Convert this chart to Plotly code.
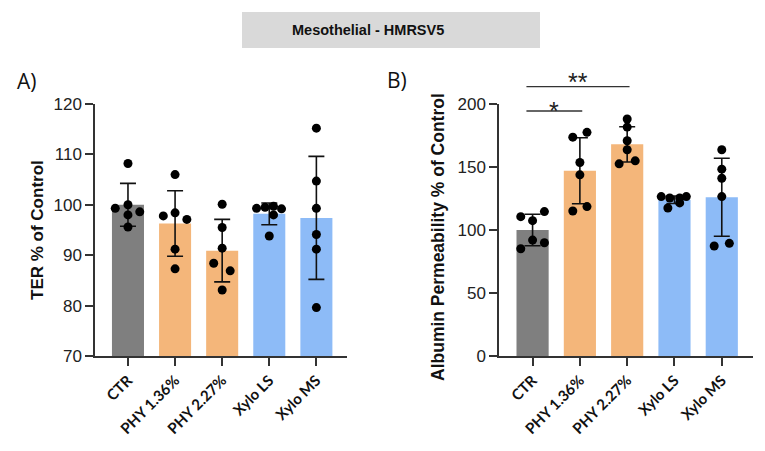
import plotly.graph_objects as go

# ---------------- data ----------------
categories = ["CTR", "PHY 1.36%", "PHY 2.27%", "Xylo LS", "Xylo MS"]
bar_colors = ["#7f7f7f", "#f4b67a", "#f4b67a", "#8dbbf7", "#8dbbf7"]

# Panel A: TER % of control
ter_mean = [100.0, 96.3, 90.9, 98.2, 97.4]
ter_sd = [4.25, 6.5, 6.2, 2.15, 12.2]
ter_points = [
    [108.2, 99.3, 100.0, 98.6, 98.0, 95.6],
    [106.0, 97.8, 98.4, 97.1, 91.2, 87.3],
    [100.1, 95.5, 91.4, 88.4, 86.9, 83.1],
    [99.3, 99.5, 99.7, 99.2, 98.0, 93.8],
    [115.2, 104.7, 99.3, 94.1, 91.2, 79.6],
]
ter_jitter = [
    [0, -0.27, 0, 0.25, 0, 0],
    [0, -0.25, 0, 0.25, 0, 0],
    [0, 0, 0, -0.18, 0.17, 0],
    [-0.27, -0.09, 0.09, 0.26, 0.09, 0],
    [0, 0, 0, 0, 0, 0],
]

# Panel B: Albumin permeability % of control
alb_mean = [100.0, 147.0, 168.0, 124.0, 126.0]
alb_sd = [12.5, 26.2, 14.0, 3.0, 31.0]
alb_points = [
    [110.6, 114.6, 107.4, 92.0, 85.1, 89.9],
    [173.7, 177.5, 153.6, 143.8, 115.1, 118.6],
    [188.1, 181.7, 170.8, 163.7, 152.5, 154.9],
    [126.5, 125.4, 125.4, 126.5, 121.5, 117.5],
    [163.7, 148.3, 141.1, 126.5, 87.3, 89.4],
]
alb_jitter = [
    [-0.25, 0.25, 0, 0, -0.25, 0.25],
    [-0.15, 0.15, 0, 0, -0.15, 0.15],
    [0, 0, 0, 0, -0.17, 0.17],
    [-0.28, -0.1, 0.11, 0.25, 0.11, -0.14],
    [0, 0, 0, 0, -0.16, 0.16],
]

# ---------------- figure ----------------
idx = list(range(len(categories)))
fig = go.Figure()

def add_panel(means, sds, points, jitter, xa, ya):
    fig.add_trace(go.Bar(
        x=idx, y=means, width=0.68, xaxis=xa, yaxis=ya,
        marker=dict(color=bar_colors, line=dict(width=0)),
        error_y=dict(type="data", array=sds, visible=True, color="#111111",
                     thickness=1.6, width=8),
        showlegend=False, hoverinfo="y",
    ))
    px, py = [], []
    for i, (pts, jit) in enumerate(zip(points, jitter)):
        for v, j in zip(pts, jit):
            px.append(i + j)
            py.append(v)
    fig.add_trace(go.Scatter(
        x=px, y=py, mode="markers", xaxis=xa, yaxis=ya,
        marker=dict(color="#000000", size=9),
        showlegend=False, cliponaxis=False,
    ))

add_panel(ter_mean, ter_sd, ter_points, ter_jitter, "x", "y")
add_panel(alb_mean, alb_sd, alb_points, alb_jitter, "x2", "y2")

# the page adds an 8px body margin; map target screen pixels to paper fractions
W, H, OFF = 765, 451, 8
def fx(px):
    return (px - OFF) / W
def fy(py):
    return (H - (py - OFF)) / H

axis_common = dict(showline=True, linecolor="#333333", linewidth=1.5,
                   ticks="outside", ticklen=8, tickwidth=1.5, tickcolor="#333333",
                   showgrid=False, zeroline=False, automargin=False)
xt_font = dict(family="Lato", size=15, color="#111111", weight="bold")
yt_font = dict(family="Liberation Sans", size=17, color="#222222")

fig.update_layout(
    width=W, height=H,
    margin=dict(l=0, r=0, t=0, b=0, pad=0, autoexpand=False),
    plot_bgcolor="white", paper_bgcolor="white",
    showlegend=False,
    xaxis=dict(domain=[fx(95), fx(347)], range=[-0.7, 4.65], tickvals=idx,
               ticktext=categories, tickangle=-45, tickfont=xt_font,
               anchor="y", **axis_common),
    yaxis=dict(domain=[fy(356), fy(104)], range=[70, 120], tickvals=[70, 80, 90, 100, 110, 120],
               tickfont=yt_font, anchor="x", **axis_common),
    xaxis2=dict(domain=[fx(499), fx(753)], range=[-0.71, 4.66], tickvals=idx,
                ticktext=categories, tickangle=-45, tickfont=xt_font,
                anchor="y2", **axis_common),
    yaxis2=dict(domain=[fy(356), fy(104)], range=[0, 200], tickvals=[0, 50, 100, 150, 200],
                tickfont=yt_font, anchor="x2", **axis_common),
)

# Title box
fig.add_shape(type="rect", xref="paper", yref="paper",
              x0=fx(242), x1=fx(540), y0=fy(48), y1=fy(12),
              fillcolor="#d9d9d9", line=dict(width=0), layer="below")
fig.add_annotation(text="<b>Mesothelial - HMRSV5</b>", xref="paper", yref="paper",
                   x=fx(368), y=fy(30), xanchor="center", yanchor="middle", showarrow=False,
                   font=dict(family="Liberation Sans", size=14.5, color="#111111"))

# Panel letters
fig.add_annotation(text="A)", xref="paper", yref="paper", x=fx(15), y=fy(81),
                   xanchor="left", yanchor="middle", showarrow=False,
                   font=dict(family="Open Sans", size=21, color="#111111"))
fig.add_annotation(text="B)", xref="paper", yref="paper", x=fx(385), y=fy(80),
                   xanchor="left", yanchor="middle", showarrow=False,
                   font=dict(family="Open Sans", size=21, color="#111111"))

# Y axis titles
fig.add_annotation(text="<b>TER % of Control</b>", xref="paper", yref="paper",
                   x=fx(38), y=fy(230), xanchor="center", yanchor="middle",
                   textangle=-90, showarrow=False,
                   font=dict(family="Liberation Sans", size=17, color="#111111"))
fig.add_annotation(text="<b>Albumin Permeability % of Control</b>", xref="paper", yref="paper",
                   x=fx(438), y=fy(237), xanchor="center", yanchor="middle",
                   textangle=-90, showarrow=False,
                   font=dict(family="Liberation Sans", size=17.5, color="#111111"))

# Significance brackets (panel B)
sig_pairs = [(0, 1, "*"), (0, 2, "**")]
sig_line_px = [111, 86.7]
sig_star_px = [111, 82]
for (a, b, s), ly, sy in zip(sig_pairs, sig_line_px, sig_star_px):
    fig.add_shape(type="line", xref="x2", yref="paper", x0=a - 0.13, x1=b + 0.05,
                  y0=fy(ly), y1=fy(ly), line=dict(color="#333333", width=1.3))
    fig.add_annotation(text=s, xref="x2", yref="paper", x=(a + b) / 2 - 0.05,
                       y=fy(sy), xanchor="center", yanchor="middle", showarrow=False,
                       font=dict(family="Liberation Sans", size=25, color="#222222"))

fig.write_html("out.html")
